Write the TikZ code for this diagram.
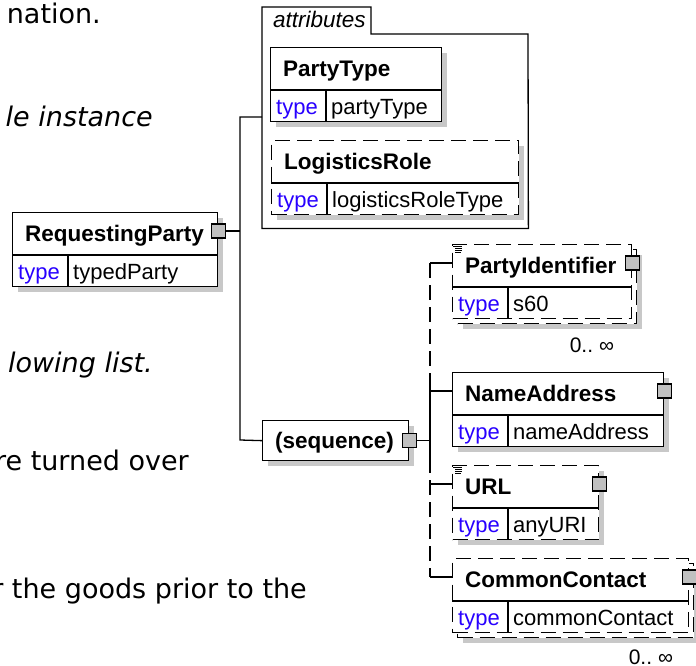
\documentclass[tikz,border=0pt]{standalone}
\usepackage{fontspec}
\setmainfont{DejaVu Sans}
\newfontfamily\diagfont{Liberation Sans}
\usetikzlibrary{calc,positioning,shadows}

\definecolor{typeblue}{RGB}{40,0,255}
\definecolor{portgray}{RGB}{192,192,192}
\definecolor{shadowgray}{RGB}{200,200,200}

% element box: name, style, x, y, width, title, type value
\newcommand{\xsdbox}[7]{%
  \node[#2, minimum width=#5pt] (#1) at (#3,#4) {};
  \draw[divline] ($(#1.north west)+(0,43)$) -- ($(#1.north east)+(0,43)$);
  \draw[divline] ($(#1.north west)+(56,43)$) -- ($(#1.south west)+(56,0)$);
  \node[title] (#1-t) at ($(#1.north west)+(13,29.5)$) {#6};
  \node[typelbl] (#1-k) at ($(#1.south west)+(6,-8)$) {type};
  \node[vallbl] (#1-v) at ($(#1.south west)+(61,-8)$) {#7};
}

\begin{document}
\begin{tikzpicture}[x=1pt,y=-1pt,
    elem/.style={draw, line width=1.3pt, fill=white, inner sep=0pt, anchor=north west, minimum height=74pt},
    solidbox/.style={elem, drop shadow={shadow xshift=5pt, shadow yshift=-5pt, fill=shadowgray, opacity=1}},
    optbox/.style={solidbox, dash pattern=on 15pt off 7pt},
    plainopt/.style={elem, dash pattern=on 15pt off 7pt},
    divline/.style={line width=1.3pt},
    title/.style={anchor=base west, inner sep=0pt, font=\diagfont\bfseries\fontsize{22.5}{26}\selectfont},
    typelbl/.style={anchor=base west, inner sep=0pt, text=typeblue, font=\diagfont\fontsize{22}{26}\selectfont},
    vallbl/.style={typelbl, text=black},
    port/.style={draw, line width=1.3pt, fill=portgray, minimum size=14pt, inner sep=0pt},
    conn/.style={line width=1.3pt},
    optconn/.style={conn, dash pattern=on 15pt off 7pt},
    prose/.style={anchor=base east, inner sep=0pt, font=\fontsize{27}{32}\selectfont},
    occ/.style={anchor=base east, inner sep=0pt, font=\diagfont\fontsize{21}{24}\selectfont}]
    \useasboundingbox (0,0) rectangle (696,666);

    \node[prose] (p1) at (101,24) {nation.};
    \node[prose] (p2) at (153,127) {\itshape le instance};
    \node[prose] (p3) at (153,372) {\itshape lowing list.};
    \node[prose] (p4) at (189,470) {re turned over};
    \node[prose] (p5) at (307,598) {r the goods prior to the};

    \node[inner sep=0pt, minimum width=266pt, minimum height=221pt, anchor=north west] (attr) at (262,7) {};
    \draw[conn] (attr.north west) -- (371,7) -- (371,34) -- (528,34) -- (attr.south east) -- (attr.south west) -- cycle;
    \node[title, font=\diagfont\itshape\fontsize{22.5}{26}\selectfont] (attr-t) at (273,28) {attributes};

    \xsdbox{pt}{solidbox}{270}{47}{171}{PartyType}{partyType}
    \xsdbox{lr}{optbox}{271}{140}{247}{LogisticsRole}{logisticsRoleType}
    \xsdbox{rp}{solidbox}{12}{212}{205}{RequestingParty}{typedParty}

    \node[solidbox, minimum width=146pt, minimum height=40pt] (seq) at (262,420) {};
    \node[title] (seq-t) at ($(seq.west)+(13,8)$) {(sequence)};

    \node[optbox, minimum width=179pt] (pi-b) at (457,249) {};
    \xsdbox{pi}{plainopt}{452}{244}{179}{PartyIdentifier}{s60}
    \xsdbox{na}{solidbox}{452}{372}{211}{NameAddress}{nameAddress}
    \xsdbox{url}{optbox}{452}{465}{146}{URL}{anyURI}
    \node[optbox, minimum width=236pt] (cc-b) at (457,563) {};
    \xsdbox{cc}{plainopt}{452}{558}{236}{CommonContact}{commonContact}

    \foreach \b in {pi,url}{
        \begin{scope}[shift={(\b.north west)}]
            \fill[white] (1,1) rectangle (11,9);
            \draw[line width=0.9pt] (1,2) -- (10,2);
            \draw[line width=0.9pt] (3,4) -- (10,4);
            \draw[line width=0.9pt] (3,6) -- (10,6);
            \draw[line width=0.9pt] (3,8) -- (9,8);
        \end{scope}
    }

    \coordinate (ja) at (240,117);
    \coordinate (jb) at (240,440);
    \coordinate (ka) at (430,263);
    \coordinate (km1) at (430,381);
    \coordinate (km2) at (430,458);
    \coordinate (kd) at (430,577);

    \draw[conn] (attr.west |- ja) -- (ja) -- (jb) -- (seq.west);
    \draw[optconn] (ka) -- (km1);
    \draw[conn] (km1) -- (km2);
    \draw[optconn] (km2) -- (kd);
    \draw[conn] (ka) -- (pi.west |- ka);
    \draw[conn] (km1 |- 0,391) -- (na.west |- 0,391);
    \draw[conn] (km1 |- 0,484) -- (url.west |- 0,484);
    \draw[conn] (kd) -- (cc.west |- kd);

    \foreach \b in {rp,pi,na,url,cc}
        \node[port] (\b-p) at ($(\b.north east)+(0,19)$) {};
    \node[port] (seq-p) at (seq.east) {};

    \draw[conn] (rp-p.east) -- (rp-p.east -| ja);
    \draw[conn] (seq-p.east) -- (seq-p.east -| ka);

    \node[occ] (pi-o) at ($(pi-b.south east)+(-23,28)$) {0..\hspace{6pt}∞};
    \node[occ] (cc-o) at ($(cc-b.south east)+(-21,26)$) {0..\hspace{6pt}∞};
\end{tikzpicture}
\end{document}
